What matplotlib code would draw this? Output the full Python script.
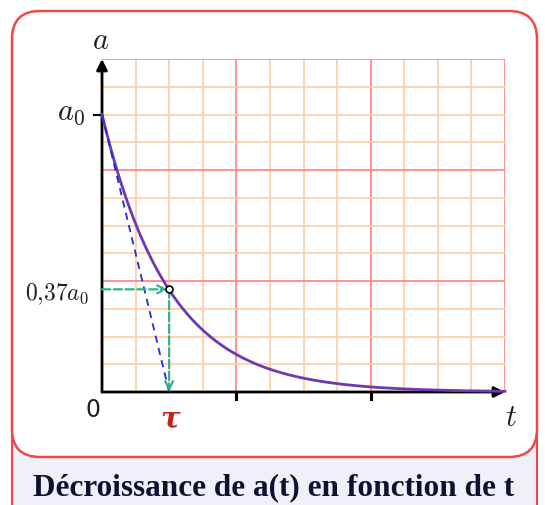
import numpy as np
import matplotlib.pyplot as plt
from matplotlib.patches import FancyBboxPatch, Rectangle

plt.rcParams['mathtext.fontset'] = 'cm'

# grid is 12 x 12 cells, a0 sits on row 10, tau on column 2
a0 = 10.0
tau = 2.0
ratio = 0.37
t_max = 12
a_max = 12
major_step = 4

t = np.linspace(0, t_max, 400)
a = a0 * np.exp(-t / tau)

W, H = 545, 506
fig = plt.figure(figsize=(W / 100, H / 100), dpi=100)

# background frame drawn in pixel coordinates
bg = fig.add_axes([0, 0, 1, 1])
bg.set_xlim(0, W)
bg.set_ylim(H, 0)
bg.axis('off')
bg.add_patch(Rectangle((12, 300), 525, 220, facecolor='#f0f0fa', edgecolor='#f04848', lw=1.5))
bg.add_patch(FancyBboxPatch((12, 12), 525, 446, boxstyle='round,pad=0,rounding_size=28',
                            facecolor='white', edgecolor='#f04848', lw=1.8))
bg.text(274, 488, 'Décroissance de a(t) en fonction de t', ha='center', va='center',
        fontfamily='Liberation Serif', fontweight='bold', fontsize=22.5, color='#101030')

# plotting area
x0, y0, x1, y1 = 102, 393, 505, 60
ax = fig.add_axes([x0 / W, 1 - y0 / H, (x1 - x0) / W, (y0 - y1) / H])
ax.set_xlim(0, t_max)
ax.set_ylim(0, a_max)
ax.axis('off')

for i in range(1, t_max + 1):
    major = i % major_step == 0
    ax.axvline(i, color='#ff8a80' if major else '#ffd0a8', lw=1.3, zorder=1)
for j in range(1, a_max + 1):
    major = j % major_step == 0
    ax.axhline(j, color='#ff8a80' if major else '#ffd0a8', lw=1.3, zorder=1)

# axes with arrow heads
ax.annotate('', xy=(t_max, 0), xytext=(0, 0),
            arrowprops=dict(arrowstyle='-|>', color='black', lw=2, mutation_scale=16,
                            shrinkA=0, shrinkB=0), annotation_clip=False, zorder=4)
ax.annotate('', xy=(0, a_max), xytext=(0, 0),
            arrowprops=dict(arrowstyle='-|>', color='black', lw=2, mutation_scale=16,
                            shrinkA=0, shrinkB=0), annotation_clip=False, zorder=4)
for xt in [4, 8]:
    ax.plot([xt, xt], [0, -0.25], color='black', lw=2.2, clip_on=False, zorder=4)
ax.plot([0, -0.25], [a0, a0], color='black', lw=1.5, clip_on=False, zorder=4)

# decay curve and tangent at origin
ax.plot(t, a, color='#7038b0', lw=2, zorder=5, clip_on=False)
ax.plot([0, tau], [a0, 0], color='#2828d8', lw=1.3, ls=(0, (4, 3)), zorder=5)

# dashed guides to the point (tau, 0.37 a0)
green = '#30b090'
ax.annotate('', xy=(tau - 0.05, ratio * a0), xytext=(0, ratio * a0),
            arrowprops=dict(arrowstyle='->', color=green, lw=1.6, ls='--', mutation_scale=14,
                            shrinkA=0, shrinkB=0), zorder=6)
ax.annotate('', xy=(tau, 0.02), xytext=(tau, ratio * a0),
            arrowprops=dict(arrowstyle='->', color=green, lw=1.6, ls='--', mutation_scale=14,
                            shrinkA=0, shrinkB=0), zorder=6)
ax.plot([tau], [ratio * a0], marker='o', ms=5, mfc='white', mec='black', mew=1.2, zorder=7)

# labels
lab = '#202020'
bg.text(101, 40, r'$a$', ha='center', va='center', fontsize=22, color=lab)
bg.text(71, 112, r'$a_0$', ha='center', va='center', fontsize=22, color=lab)
bg.text(57, 294, r'$0{,}37a_0$', ha='center', va='center', fontsize=17, color=lab)
bg.text(93, 410, '0', ha='center', va='center', fontsize=17, fontfamily='DejaVu Sans', color=lab)
bg.text(170, 419, 'τ', ha='center', va='center', fontsize=21, color='#cc2020',
        fontfamily='DejaVu Serif', fontstyle='italic', fontweight='bold')
bg.text(511, 418, r'$t$', ha='center', va='center', fontsize=22, color=lab)

fig.savefig('out.png', dpi=100)
